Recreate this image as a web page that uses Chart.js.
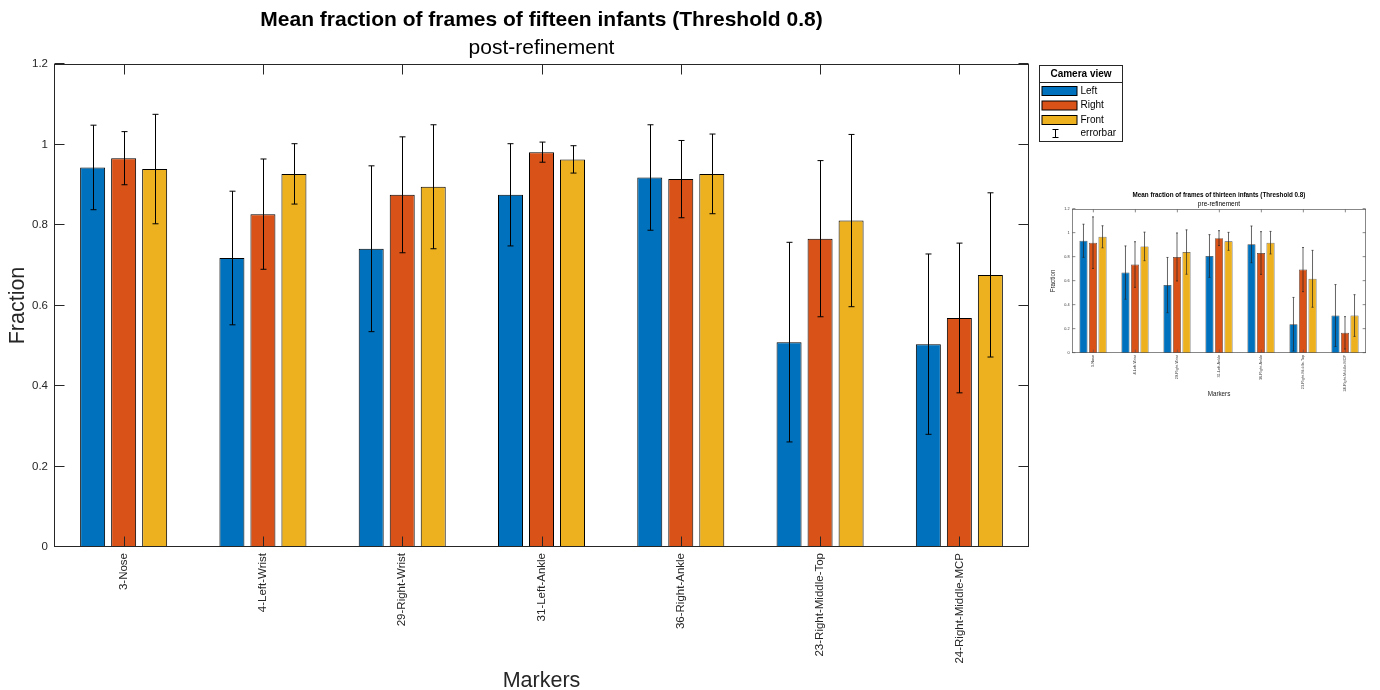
<!DOCTYPE html>
<html>
<head>
<meta charset="utf-8">
<script src="https://cdn.jsdelivr.net/npm/chart.js@4.4.1/dist/chart.umd.min.js"></script>
<style>
  html, body { margin: 0; padding: 0; background: #ffffff; }
  #wrap { position: relative; width: 1380px; height: 690px; overflow: hidden; }
  #main { position: absolute; left: 0; top: 0; }
  #inset { position: absolute; left: 1040px; top: 180px; filter: blur(0.7px); }
</style>
</head>
<body>
<div id="wrap">
  <canvas id="main" width="1380" height="690"></canvas>
  <canvas id="inset" width="340" height="230"></canvas>
</div>
<script>
// ---- data -------------------------------------------------------------
const markers = ['3-Nose', '4-Left-Wrist', '29-Right-Wrist', '31-Left-Ankle',
                 '36-Right-Ankle', '23-Right-Middle-Top', '24-Right-Middle-MCP'];
const views = ['Left', 'Right', 'Front'];
const yTickLabels = ['0', '0.2', '0.4', '0.6', '0.8', '1', '1.2'];

// post-refinement, fifteen infants (mean and standard deviation)
const postLeft     = [0.943, 0.718, 0.741, 0.875, 0.918, 0.509, 0.504];
const postLeftErr  = [0.105, 0.166, 0.206, 0.127, 0.131, 0.248, 0.224];
const postRight    = [0.966, 0.827, 0.875, 0.981, 0.914, 0.766, 0.569];
const postRightErr = [0.066, 0.137, 0.144, 0.025, 0.096, 0.194, 0.186];
const postFront    = [0.939, 0.927, 0.895, 0.963, 0.927, 0.811, 0.676];
const postFrontErr = [0.136, 0.075, 0.154, 0.034, 0.099, 0.214, 0.204];

// pre-refinement, thirteen infants
const preLeft     = [0.935, 0.670, 0.566, 0.808, 0.905, 0.240, 0.312];
const preLeftErr  = [0.138, 0.222, 0.230, 0.178, 0.153, 0.223, 0.258];
const preRight    = [0.919, 0.737, 0.800, 0.957, 0.833, 0.695, 0.168];
const preRightErr = [0.215, 0.190, 0.200, 0.062, 0.178, 0.184, 0.135];
const preFront    = [0.968, 0.888, 0.841, 0.930, 0.919, 0.618, 0.312];
const preFrontErr = [0.092, 0.119, 0.185, 0.075, 0.094, 0.237, 0.174];

const viewColors = ['#0072BD', '#D95319', '#EDB120'];

// ---- plugins ----------------------------------------------------------
// Box around the axes with inward tick marks on all four sides
const framePlugin = {
  id: 'frame',
  afterDatasetsDraw(chart, args, o) {
    const { ctx, chartArea: a, scales: { x, y } } = chart;
    const h = o.lineWidth / 2;
    ctx.save();
    ctx.strokeStyle = o.color;
    ctx.lineWidth = o.lineWidth;
    const L = Math.round(a.left) + h, R = Math.round(a.right) - h;
    const T = Math.round(a.top) + h, B = Math.round(a.bottom) - h;
    ctx.strokeRect(L, T, R - L, B - T);
    ctx.beginPath();
    y.ticks.forEach(t => {
      const py = Math.round(y.getPixelForValue(t.value)) - h;
      ctx.moveTo(L, py); ctx.lineTo(L + o.tick, py);
      ctx.moveTo(R, py); ctx.lineTo(R - o.tick, py);
    });
    chart.data.labels.forEach((lab, i) => {
      const px = Math.round(x.getPixelForValue(i)) + h;
      ctx.moveTo(px, B); ctx.lineTo(px, B - o.tick);
      ctx.moveTo(px, T); ctx.lineTo(px, T + o.tick);
    });
    ctx.stroke();
    ctx.restore();
  }
};

// Symmetric error bars (mean ± sd) with caps
const errorBarPlugin = {
  id: 'errorBars',
  afterDatasetsDraw(chart, args, o) {
    const { ctx, scales: { y } } = chart;
    ctx.save();
    ctx.strokeStyle = o.color;
    ctx.lineWidth = o.lineWidth;
    chart.data.datasets.forEach((ds, i) => {
      const meta = chart.getDatasetMeta(i);
      meta.data.forEach((bar, j) => {
        const m = ds.data[j], e = ds.errors[j];
        const x = o.snap ? Math.round(bar.x) + 0.5 : bar.x;
        const yt = y.getPixelForValue(m + e);
        const yb = y.getPixelForValue(m - e);
        ctx.beginPath();
        ctx.moveTo(x, yt); ctx.lineTo(x, yb);
        ctx.moveTo(x - o.cap, yt); ctx.lineTo(x + o.cap, yt);
        ctx.moveTo(x - o.cap, yb); ctx.lineTo(x + o.cap, yb);
        ctx.stroke();
      });
    });
    ctx.restore();
  }
};

// Legend box titled "Camera view" to the right of the axes
const viewLegendPlugin = {
  id: 'viewLegend',
  afterDraw(chart, args, o) {
    if (!o.display) return;
    const { ctx, chartArea: a } = chart;
    const L = Math.round(a.right) + 10.5, T = Math.round(a.top) + 1.5;
    const W = 83, H = 76;
    ctx.save();
    ctx.fillStyle = '#ffffff';
    ctx.fillRect(L, T, W, H);
    ctx.strokeStyle = '#262626';
    ctx.lineWidth = 1;
    ctx.strokeRect(L, T, W, H);
    ctx.beginPath();
    ctx.moveTo(L, T + 17); ctx.lineTo(L + W, T + 17);
    ctx.stroke();

    ctx.fillStyle = '#000000';
    ctx.textBaseline = 'middle';
    ctx.textAlign = 'center';
    ctx.font = "bold 10px 'Liberation Sans', Arial, sans-serif";
    ctx.fillText(o.title, L + W / 2, T + 9);

    ctx.textAlign = 'left';
    ctx.font = "10px 'Liberation Sans', Arial, sans-serif";
    chart.data.datasets.forEach((ds, i) => {
      const cy = T + 25.5 + i * 14.5;
      ctx.fillStyle = ds.backgroundColor;
      ctx.fillRect(L + 2.5, cy - 4.5, 35, 9);
      ctx.strokeStyle = '#000000';
      ctx.strokeRect(L + 2.5, cy - 4.5, 35, 9);
      ctx.fillStyle = '#000000';
      ctx.fillText(ds.label, L + 41, cy);
    });
    const ey = T + 68;
    const ex = L + 16;
    ctx.beginPath();
    ctx.moveTo(ex, ey - 4); ctx.lineTo(ex, ey + 4);
    ctx.moveTo(ex - 3, ey - 4); ctx.lineTo(ex + 3, ey - 4);
    ctx.moveTo(ex - 3, ey + 4); ctx.lineTo(ex + 3, ey + 4);
    ctx.stroke();
    ctx.fillText(o.errorLabel, L + 41, ey);
    ctx.restore();
  }
};

// ---- chart builder ----------------------------------------------------
const FONT = "'Liberation Sans', Arial, Helvetica, sans-serif";
Chart.defaults.font.family = FONT;
Chart.defaults.color = '#262626';

function buildChart(canvas, s) {
  return new Chart(canvas, {
    type: 'bar',
    data: {
      labels: markers,
      datasets: s.series.map((vals, i) => ({
        label: views[i],
        data: vals,
        errors: s.errors[i],
        backgroundColor: viewColors[i],
        borderColor: s.barBorder,
        borderWidth: s.barBorderWidth,
        borderSkipped: 'start'
      }))
    },
    options: {
      responsive: false,
      animation: false,
      devicePixelRatio: 1,
      categoryPercentage: s.catPct,
      barPercentage: s.barPct,
      layout: { padding: { left: 0, right: s.padRight, top: 0, bottom: 0 } },
      plugins: {
        legend: { display: false },
        tooltip: { enabled: false },
        title: {
          display: true, text: s.title, fullSize: false, color: '#000000',
          font: { size: s.titleSize, weight: 'bold', lineHeight: 1.2 },
          padding: { top: s.titlePadTop, bottom: s.titlePadBottom }
        },
        subtitle: {
          display: true, text: s.subtitle, fullSize: false, color: '#000000',
          font: { size: s.subtitleSize, lineHeight: 1.2 },
          padding: { top: 0, bottom: s.subtitlePadBottom }
        },
        frame: { color: s.frameColor, lineWidth: s.frameWidth, tick: s.tickLen },
        errorBars: { color: s.errColor, lineWidth: s.errWidth, cap: s.cap, snap: s.snap },
        viewLegend: { display: s.legend, title: 'Camera view', errorLabel: 'errorbar' }
      },
      scales: {
        x: {
          grid: { display: false, drawTicks: false },
          border: { display: false },
          ticks: {
            autoSkip: false, maxRotation: 90, minRotation: 90,
            padding: s.xTickPad, color: s.tickColor, font: { size: s.tickSize }
          },
          title: {
            display: true, text: 'Markers', color: s.labelColor,
            font: { size: s.labelSize, lineHeight: 1 },
            padding: { top: 0, bottom: s.xTitlePad }
          },
          afterFit(scale) { scale.height = s.xHeight; }
        },
        y: {
          min: 0, max: 1.2,
          grid: { display: false, drawTicks: false },
          border: { display: false },
          ticks: {
            stepSize: 0.2, padding: s.yTickPad, color: s.tickColor,
            font: { size: s.tickSize },
            callback: (v, i) => yTickLabels[i]
          },
          title: {
            display: true, text: 'Fraction', color: s.labelColor,
            font: { size: s.labelSize, lineHeight: 1 },
            padding: { top: s.yTitlePad, bottom: 0 }
          },
          afterFit(scale) { scale.width = s.yWidth; }
        }
      }
    },
    plugins: [framePlugin, errorBarPlugin, viewLegendPlugin]
  });
}

// Main figure: post-refinement
buildChart(document.getElementById('main'), {
  series: [postLeft, postRight, postFront],
  errors: [postLeftErr, postRightErr, postFrontErr],
  title: 'Mean fraction of frames of fifteen infants (Threshold 0.8)',
  subtitle: 'post-refinement',
  titleSize: 21, titlePadTop: 7.4, titlePadBottom: 2.8,
  subtitleSize: 21, subtitlePadBottom: 3.4,
  padRight: 351, xHeight: 143, yWidth: 54,
  catPct: 0.668, barPct: 0.806,
  barBorder: '#000000', barBorderWidth: 1,
  tickSize: 11.5, tickColor: '#262626', xTickPad: 6, yTickPad: 6,
  labelSize: 21.5, labelColor: '#262626', xTitlePad: -1.7, yTitlePad: 7.25,
  frameColor: '#262626', frameWidth: 1, tickLen: 10,
  errColor: '#000000', errWidth: 1, cap: 3, snap: true,
  legend: true
});

// Small figure: pre-refinement
buildChart(document.getElementById('inset'), {
  series: [preLeft, preRight, preFront],
  errors: [preLeftErr, preRightErr, preFrontErr],
  title: 'Mean fraction of frames of thirteen infants (Threshold 0.8)',
  subtitle: 'pre-refinement',
  titleSize: 6.3, titlePadTop: 11.2, titlePadBottom: 1.5,
  subtitleSize: 6.5, subtitlePadBottom: 0.9,
  padRight: 14, xHeight: 57, yWidth: 32,
  catPct: 0.68, barPct: 0.85,
  barBorder: '#444444', barBorderWidth: 0.7,
  tickSize: 3.8, tickColor: '#333333', xTickPad: 2, yTickPad: 2.5,
  labelSize: 6.3, labelColor: '#222222', xTitlePad: 12.8, yTitlePad: 9.8,
  frameColor: '#555555', frameWidth: 0.7, tickLen: 3,
  errColor: '#222222', errWidth: 0.7, cap: 1, snap: false,
  legend: false
});
</script>
</body>
</html>
